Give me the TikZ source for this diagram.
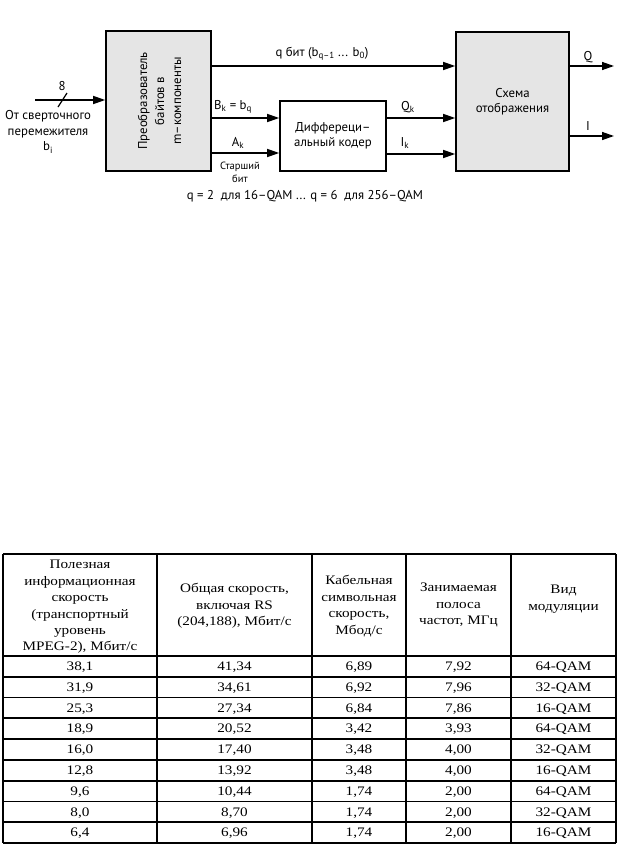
\documentclass[tikz,border=0pt]{standalone}
\usepackage{fontspec}
\setmainfont{Liberation Serif}[FakeStretch=1.17]
\newfontfamily\gillfont{PT Sans}
\usetikzlibrary{arrows.meta}

\tikzset{
  block/.style={draw, line width=1.6pt, inner sep=0pt},
  sig/.style={line width=1.4pt, -{Triangle[length=12pt,width=8pt]}},
  lbl/.style={font=\gillfont\fontsize{12.8}{15.5}\selectfont, inner sep=0pt, align=center},
  small lbl/.style={font=\gillfont\fontsize{10.5}{13}\selectfont, inner sep=0pt, align=center},
  rule/.style={line width=1.7pt},
  cell/.style={font=\fontsize{13}{16.4}\selectfont, inner sep=0pt, align=center},
}

\begin{document}
\begin{tikzpicture}[x=1pt,y=-1pt]
  \useasboundingbox (0,0) rectangle (643,846);

  % blocks
  \node[block, fill=black!10, minimum width=105pt, minimum height=140pt] (conv) at (158.5,101) {};
  \node[lbl, rotate=90, font=\gillfont\fontsize{12.8}{17}\selectfont] (convtext) at (159.5,101)
    {Преобразователь\\байтов в\\m–компоненты};
  \node[block, lbl, minimum width=106pt, minimum height=70pt] (diff) at (333,136)
    {Диффереци–\\альный кодер};
  \node[block, lbl, fill=black!10, minimum width=113pt, minimum height=139pt] (map) at (512.5,101.5)
    {Схема\\отображения};

  % input
  \coordinate (src) at (35,100);
  \coordinate (tick1) at (58,107);
  \coordinate (tick2) at (67,93);
  \draw[sig] (src) -- (src -| conv.west);
  \draw[line width=1.2pt] (tick1) -- (tick2);
  \node[lbl] (nbits) at (62,86) {8};
  \node[lbl] (srctext) at (48,132) {От сверточного\\перемежителя\\b\textsubscript{i}};

  % signals
  \coordinate (qs) at (conv.east |- 0,66);
  \coordinate (bk) at (conv.east |- 0,118);
  \coordinate (ak) at (conv.east |- 0,153);
  \coordinate (qk) at (diff.east |- 0,118);
  \coordinate (ik) at (diff.east |- 0,154);
  \coordinate (qo) at (map.east |- 0,66);
  \coordinate (io) at (map.east |- 0,136);
  \coordinate (qend) at (614,66);
  \coordinate (iend) at (614,136);
  \draw[sig] (qs) -- (qs -| map.west);
  \draw[sig] (bk) -- (bk -| diff.west);
  \draw[sig] (ak) -- (ak -| diff.west);
  \draw[sig] (qk) -- (qk -| map.west);
  \draw[sig] (ik) -- (ik -| map.west);
  \draw[sig] (qo) -- (qend);
  \draw[sig] (io) -- (iend);

  \node[lbl] (qlbl) at (322,54) {q бит (b\textsubscript{q–1} ... b\textsubscript{0})};
  \node[lbl] (bklbl) at (233,107) {B\textsubscript{k} = b\textsubscript{q}};
  \node[lbl] (aklbl) at (238,143) {A\textsubscript{k}};
  \node[small lbl] (msb) at (240,172) {Старший\\бит};
  \node[lbl] (qklbl) at (408,107) {Q\textsubscript{k}};
  \node[lbl] (iklbl) at (405,143) {I\textsubscript{k}};
  \node[lbl] (qolbl) at (588,57) {Q};
  \node[lbl] (iolbl) at (588,126) {I};
  \node[lbl] (note) at (305,196) {q = 2~~для 16–QAM ... q = 6~~для 256–QAM};

  % table
  \foreach \x in {3,157,312,406,511,616}
    \draw[rule] (\x,554) -- (\x,843);
  \draw[rule] (3,554) -- (616,554);
  \foreach \i in {0,...,9}
    \draw[rule] (3,{656+20.78*\i}) -- (616,{656+20.78*\i});

  \node[cell] (h1) at (80,607)
    {Полезная\\информационная\\скорость\\(транспортный\\уровень\\MPEG-2), Мбит/с};
  \node[cell] (h2) at (234.5,606) {Общая скорость,\\включая RS\\(204,188), Мбит/с};
  \node[cell] (h3) at (359,606) {Кабельная\\символьная\\скорость,\\Мбод/с};
  \node[cell] (h4) at (458.5,605) {Занимаемая\\полоса\\частот, МГц};
  \node[cell] (h5) at (563.5,599) {Вид\\модуляции};

  \foreach \a/\b/\c/\d/\e [count=\i] in {
      {38,1}/{41,34}/{6,89}/{7,92}/64-QAM,
      {31,9}/{34,61}/{6,92}/{7,96}/32-QAM,
      {25,3}/{27,34}/{6,84}/{7,86}/16-QAM,
      {18,9}/{20,52}/{3,42}/{3,93}/64-QAM,
      {16,0}/{17,40}/{3,48}/{4,00}/32-QAM,
      {12,8}/{13,92}/{3,48}/{4,00}/16-QAM,
      {9,6}/{10,44}/{1,74}/{2,00}/64-QAM,
      {8,0}/{8,70}/{1,74}/{2,00}/32-QAM,
      {6,4}/{6,96}/{1,74}/{2,00}/16-QAM} {
    \node[cell, anchor=base] (r\i-1) at (80,{670.6+20.78*(\i-1)}) {\a};
    \node[cell, anchor=base] (r\i-2) at (234.5,{670.6+20.78*(\i-1)}) {\b};
    \node[cell, anchor=base] (r\i-3) at (359,{670.6+20.78*(\i-1)}) {\c};
    \node[cell, anchor=base] (r\i-4) at (458.5,{670.6+20.78*(\i-1)}) {\d};
    \node[cell, anchor=base] (r\i-5) at (563.5,{670.6+20.78*(\i-1)}) {\e};
  }
\end{tikzpicture}
\end{document}
